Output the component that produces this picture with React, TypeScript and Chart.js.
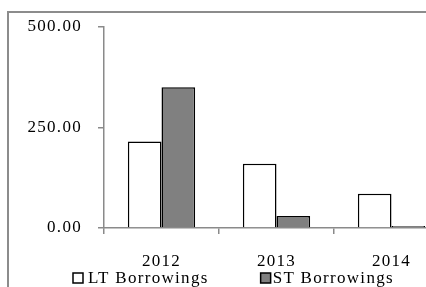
import React, { useEffect, useRef } from "react";
import { Chart, registerables } from "chart.js";

Chart.register(...registerables);

const categories = ["2012", "2013", "2014"];
const ltBorrowings = [215, 160, 85];
const stBorrowings = [350, 30, 5];
const yTicks = [0, 250, 500];
const seriesLabels = ["LT Borrowings", "ST Borrowings"];

const FONT_FAMILY = '"Liberation Serif", "Times New Roman", serif';
const FONT_SIZE = 17;
const LETTER_SPACING = "1.3px";
const AXIS_COLOR = "#8a8a8a";

const spacingPlugin = {
  id: "spacingPlugin",
  beforeUpdate(chart: any) {
    chart.ctx.letterSpacing = LETTER_SPACING;
  },
  beforeDraw(chart: any) {
    chart.ctx.letterSpacing = LETTER_SPACING;
  },
};

const legendPlugin = {
  id: "customLegend",
  afterDraw(chart: any) {
    const ctx = chart.ctx;
    const area = chart.chartArea;
    ctx.save();
    ctx.font = `${FONT_SIZE}px ${FONT_FAMILY}`;
    ctx.letterSpacing = LETTER_SPACING;
    ctx.textBaseline = "alphabetic";
    ctx.textAlign = "left";
    const baseline = area.bottom + 55;
    const box = 10;
    let x = area.left - 31;
    chart.data.datasets.forEach((ds: any, i: number) => {
      ctx.fillStyle = ds.backgroundColor;
      ctx.fillRect(x, baseline - box, box, box);
      ctx.strokeStyle = "#000";
      ctx.lineWidth = 1.5;
      ctx.strokeRect(x, baseline - box, box, box);
      ctx.fillStyle = "#000";
      const tx = x + box + (i === 0 ? 5 : 2);
      ctx.fillText(ds.label, tx, baseline);
      x = tx + ctx.measureText(ds.label).width + 52;
    });
    ctx.restore();
  },
};

export default function App() {
  const canvasRef = useRef<HTMLCanvasElement | null>(null);

  useEffect(() => {
    const canvas = canvasRef.current;
    if (!canvas) return;
    const chart = new Chart(canvas, {
      type: "bar",
      data: {
        labels: categories,
        datasets: [
          {
            label: seriesLabels[0],
            data: ltBorrowings,
            backgroundColor: "#ffffff",
            borderColor: "#000000",
            borderWidth: 1.5,
          },
          {
            label: seriesLabels[1],
            data: stBorrowings,
            backgroundColor: "#808080",
            borderColor: "#000000",
            borderWidth: 1.5,
          },
        ],
      },
      options: {
        animation: false,
        responsive: false,
        devicePixelRatio: 1,
        datasets: {
          bar: {
            categoryPercentage: 0.585,
            barPercentage: 1,
          },
        },
        layout: {
          padding: { left: 20, right: 31, top: 27, bottom: 27 },
        },
        plugins: {
          legend: { display: false },
          tooltip: { enabled: false },
        },
        scales: {
          x: {
            grid: {
              offset: true,
              drawOnChartArea: false,
              drawTicks: true,
              tickLength: 6,
              color: AXIS_COLOR,
              lineWidth: 1.5,
            },
            border: { display: true, color: AXIS_COLOR, width: 1.5 },
            ticks: {
              color: "#000",
              padding: 17,
              maxRotation: 0,
              font: { family: FONT_FAMILY, size: FONT_SIZE },
            },
            afterFit: (scale: any) => {
              scale.height = 45;
            },
          },
          y: {
            min: yTicks[0],
            max: yTicks[yTicks.length - 1],
            afterBuildTicks: (scale: any) => {
              scale.ticks = yTicks.map((v) => ({ value: v }));
            },
            grid: {
              drawOnChartArea: false,
              drawTicks: true,
              tickLength: 6,
              color: AXIS_COLOR,
              lineWidth: 1.5,
            },
            border: { display: true, color: AXIS_COLOR, width: 1.5 },
            ticks: {
              color: "#000",
              padding: 16,
              font: { family: FONT_FAMILY, size: FONT_SIZE },
              callback: (v: any) => Number(v).toFixed(2),
            },
            afterFit: (scale: any) => {
              scale.width = 84;
            },
          },
        },
      },
      plugins: [spacingPlugin, legendPlugin],
    });
    return () => chart.destroy();
  }, []);

  return (
    <div
      style={{
        position: "fixed",
        left: 0,
        top: 0,
        width: 426,
        height: 287,
        overflow: "hidden",
        background: "#fff",
      }}
    >
      <canvas
        ref={canvasRef}
        width={480}
        height={300}
        style={{ position: "absolute", left: 0, top: 0, width: 480, height: 300 }}
      />
      <div
        style={{
          position: "absolute",
          left: 7,
          top: 11,
          width: 470,
          height: 300,
          border: "2px solid #8c8c8c",
          boxSizing: "border-box",
          pointerEvents: "none",
        }}
      />
    </div>
  );
}
